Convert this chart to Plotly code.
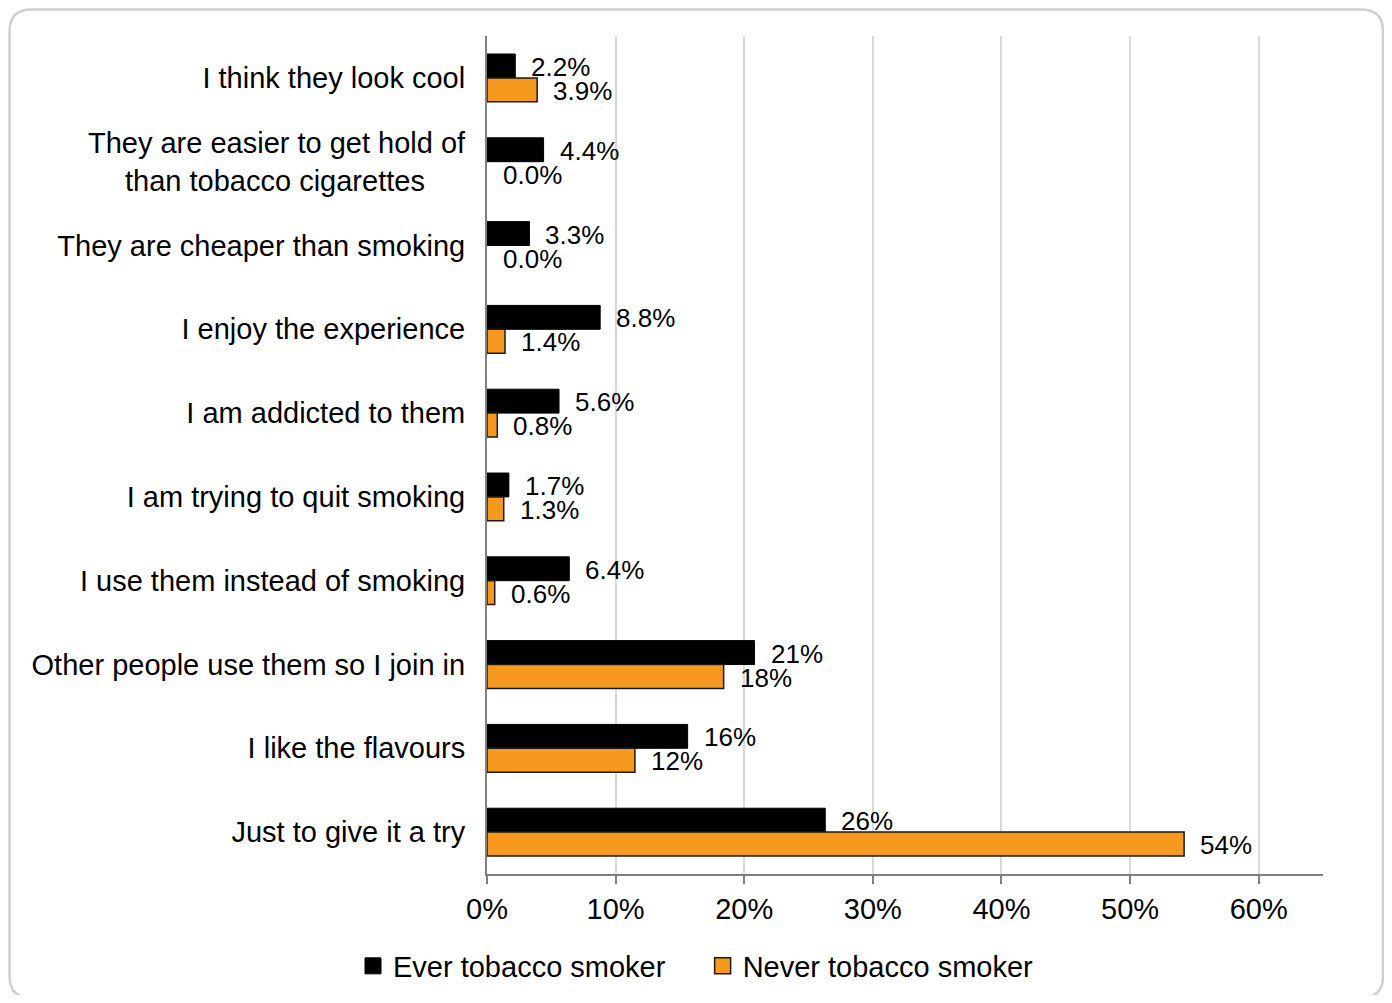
import plotly.graph_objects as go

NB = "\u00a0"
categories = [
    "I think they look cool",
    "They are easier to get hold of<br>than tobacco cigarettes" + NB * 5,
    "They are cheaper than smoking",
    "I enjoy the experience",
    "I am addicted to them",
    "I am trying to quit smoking",
    "I use them instead of smoking",
    "Other people use them so I join in",
    "I like the flavours",
    "Just to give it a try",
]
ever_vals = [2.2, 4.4, 3.3, 8.8, 5.6, 1.7, 6.4, 20.8, 15.6, 26.3]
ever_labels = ["2.2%", "4.4%", "3.3%", "8.8%", "5.6%", "1.7%", "6.4%", "21%", "16%", "26%"]
never_vals = [3.9, 0.0, 0.0, 1.4, 0.8, 1.3, 0.6, 18.4, 11.5, 54.2]
never_labels = ["3.9%", "0.0%", "0.0%", "1.4%", "0.8%", "1.3%", "0.6%", "18%", "12%", "54%"]
x_ticks = [0, 10, 20, 30, 40, 50, 60]
x_ticklabels = ["0%", "10%", "20%", "30%", "40%", "50%", "60%"]
series_names = ["Ever tobacco smoker", "Never tobacco smoker"]

FONT = "Liberation Sans, Arial, sans-serif"
ORANGE = "#F7981F"
W, H = 1376, 987
L, R, T, B = 479, 61, 28, 121

fig = go.Figure()
fig.add_trace(go.Bar(y=categories, x=ever_vals, orientation="h", name=series_names[0],
                     showlegend=False,
                     marker=dict(color="#000000", line=dict(color="#000000", width=1))))
fig.add_trace(go.Bar(y=categories, x=never_vals, orientation="h", name=series_names[1],
                     showlegend=False,
                     marker=dict(color=ORANGE,
                                 line=dict(color="#1a1a1a",
                                           width=[1.5 if v > 0 else 0 for v in never_vals]))))
# legend entries with larger square symbols
fig.add_trace(go.Scatter(x=[None], y=[None], mode="markers", name=series_names[0] + NB * 4,
                         marker=dict(symbol="square", size=17, color="#000000",
                                     line=dict(color="#000000", width=1))))
fig.add_trace(go.Scatter(x=[None], y=[None], mode="markers", name=series_names[1],
                         marker=dict(symbol="square", size=17, color=ORANGE,
                                     line=dict(color="#1a1a1a", width=1.5))))

annotations = []
for c, v, t in zip(categories, ever_vals, ever_labels):
    annotations.append(dict(x=v, y=c, xref="x", yref="y", text=t, showarrow=False,
                            xanchor="left", yanchor="middle", xshift=14, yshift=11,
                            font=dict(family=FONT, size=26, color="#000")))
for c, v, t in zip(categories, never_vals, never_labels):
    annotations.append(dict(x=v, y=c, xref="x", yref="y", text=t, showarrow=False,
                            xanchor="left", yanchor="middle", xshift=14, yshift=-13,
                            font=dict(family=FONT, size=26, color="#000")))

pw = W - L - R
ph = H - T - B
def px(xp):
    return (xp - L) / pw
def py(yp):
    return (H - B - yp) / ph

x0, x1, y0, y1, rad = 1.5, 1375, 1.5, 990, 22
rx = rad / pw
ry = rad / ph
path = (f"M {px(x0)+rx},{py(y0)} L {px(x1)-rx},{py(y0)} Q {px(x1)},{py(y0)} {px(x1)},{py(y0)-ry} "
        f"L {px(x1)},{py(y1)+ry} Q {px(x1)},{py(y1)} {px(x1)-rx},{py(y1)} "
        f"L {px(x0)+rx},{py(y1)} Q {px(x0)},{py(y1)} {px(x0)},{py(y1)+ry} "
        f"L {px(x0)},{py(y0)-ry} Q {px(x0)},{py(y0)} {px(x0)+rx},{py(y0)} Z")

fig.update_layout(
    width=W, height=H,
    margin=dict(l=L, r=R, t=T, b=B),
    paper_bgcolor="white", plot_bgcolor="white",
    barmode="group", bargap=0.43, bargroupgap=0,
    font=dict(family=FONT, size=29, color="#000"),
    annotations=annotations,
    shapes=[dict(type="path", path=path, xref="paper", yref="paper",
                 line=dict(color="#d0d0d0", width=2.5), layer="below")],
    legend=dict(orientation="h", xref="container", yref="container", x=0.5, xanchor="center",
                y=29 / 987, yanchor="middle", font=dict(family=FONT, size=29),
                itemwidth=30, traceorder="normal"),
    showlegend=True,
)
fig.update_xaxes(range=[0, 65], tickvals=x_ticks, ticktext=x_ticklabels,
                 showgrid=True, gridcolor="#d9d9d9", gridwidth=1.5,
                 showline=True, linecolor="#7f7f7f", linewidth=2,
                 ticks="outside", ticklen=8, tickcolor="#7f7f7f", tickwidth=2,
                 tickfont=dict(family=FONT, size=29), zeroline=False)
fig.update_yaxes(autorange="reversed", showline=True, linecolor="#7f7f7f", linewidth=2,
                 ticks="", ticklabelstandoff=14, tickfont=dict(family=FONT, size=29),
                 showgrid=False)

fig.write_html("out.html")
